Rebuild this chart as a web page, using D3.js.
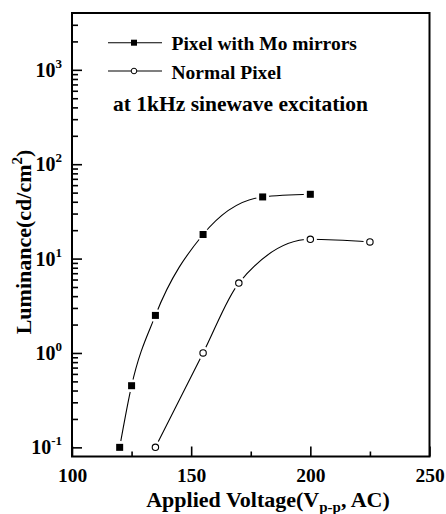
<!DOCTYPE html>
<html>
<head>
<meta charset="utf-8">
<script src="https://cdn.jsdelivr.net/npm/d3@7.9.0/dist/d3.min.js"></script>
<style>
  body { margin: 0; background: #fff; }
  svg { display: block; font-family: "Liberation Serif", "Times New Roman", serif; font-weight: bold; }
</style>
</head>
<body>
<svg id="chart" width="446" height="514"></svg>
<script>
// data
const moVoltage = [120, 125, 135, 155, 180, 200];
const moLuminance = [0.1, 0.45, 2.5, 18, 45, 48];
const normalVoltage = [135, 155, 170, 200, 225];
const normalLuminance = [0.1, 1.0, 5.5, 16, 15];

const xTicks = [100, 150, 200, 250];
const xMinorTicks = [125, 175, 225];
const yExponents = [-1, 0, 1, 2, 3];

const svg = d3.select('#chart');
const plotLeft = 72, plotRight = 429.5, plotTop = 13, plotBottom = 456.5;

const x = d3.scaleLinear().domain([100, 250]).range([plotLeft, plotRight]);
const y = d3.scaleLog().domain([0.08, 4000]).range([plotBottom, plotTop]);

// minor log ticks 2..9 in each decade
let yMinor = [];
yExponents.forEach((e) => {
  for (let d = 2; d <= 9; d++) {
    const v = d * Math.pow(10, e);
    if (v < 4000) yMinor.push(v);
  }
});

// x axis
const gx = svg.append('g').attr('transform', `translate(0,${plotBottom})`);
gx.call(d3.axisBottom(x).tickValues(xTicks).tickSize(-10).tickPadding(12).tickFormat(d3.format('d')));
gx.append('g').call(d3.axisBottom(x).tickValues(xMinorTicks).tickSize(-5).tickFormat(''));
gx.selectAll('.domain').remove();
gx.selectAll('text').attr('font-size', 19.5).attr('fill', '#000')
  .attr('font-family', '"Liberation Serif", serif').attr('font-weight', 'bold');
gx.selectAll('line').attr('stroke-width', 1.6);

// y axis
const gy = svg.append('g').attr('transform', `translate(${plotLeft},0)`);
gy.call(d3.axisLeft(y).tickValues(yExponents.map((e) => Math.pow(10, e))).tickSize(-10).tickFormat(''));
gy.append('g').call(d3.axisLeft(y).tickValues(yMinor).tickSize(-6).tickFormat(''));
gy.selectAll('.domain').remove();
gy.selectAll('line').attr('stroke-width', 1.6);

yExponents.forEach((e) => {
  const t = svg.append('text')
    .attr('x', 62)
    .attr('y', y(Math.pow(10, e)) + 7)
    .attr('text-anchor', 'end')
    .attr('font-size', 20);
  t.append('tspan').text('10');
  t.append('tspan').attr('dy', -9).attr('font-size', 13).text(e);
});

// frame
svg.append('rect')
  .attr('x', plotLeft).attr('y', plotTop)
  .attr('width', plotRight - plotLeft).attr('height', plotBottom - plotTop)
  .attr('fill', 'none').attr('stroke', '#000').attr('stroke-width', 2);

// axis titles
const xt = svg.append('text')
  .attr('x', 268).attr('y', 506.5)
  .attr('text-anchor', 'middle')
  .attr('font-size', 22);
xt.append('tspan').text('Applied Voltage(V');
xt.append('tspan').attr('dy', 5).attr('font-size', 15).text('p-p');
xt.append('tspan').attr('dy', -5).text(', AC)');

const yt = svg.append('text')
  .attr('transform', 'translate(31,242) rotate(-90)')
  .attr('text-anchor', 'middle')
  .attr('font-size', 22);
yt.append('tspan').text('Luminance(cd/cm');
yt.append('tspan').attr('dy', -9).attr('font-size', 15).text('2');
yt.append('tspan').attr('dy', 9).text(')');

// curves
const line = d3.line()
  .x((d) => x(d[0]))
  .y((d) => y(d[1]))
  .curve(d3.curveMonotoneX);

const moData = moVoltage.map((v, i) => [v, moLuminance[i]]);
const normalData = normalVoltage.map((v, i) => [v, normalLuminance[i]]);

[moData, normalData].forEach((data) => {
  svg.append('path')
    .attr('d', line(data))
    .attr('fill', 'none')
    .attr('stroke', '#000')
    .attr('stroke-width', 1.1);
});

// white halos make the gaps around markers
[...moData, ...normalData].forEach((d) => {
  svg.append('circle')
    .attr('cx', x(d[0])).attr('cy', y(d[1]))
    .attr('r', 6.5).attr('fill', '#fff');
});

svg.selectAll('.mo').data(moData).join('rect')
  .attr('class', 'mo')
  .attr('x', (d) => x(d[0]) - 3.5)
  .attr('y', (d) => y(d[1]) - 3.5)
  .attr('width', 7).attr('height', 7)
  .attr('fill', '#000');

svg.selectAll('.normal').data(normalData).join('circle')
  .attr('class', 'normal')
  .attr('cx', (d) => x(d[0]))
  .attr('cy', (d) => y(d[1]))
  .attr('r', 3.2)
  .attr('fill', '#fff').attr('stroke', '#000').attr('stroke-width', 1.1);

// legend
const legendRows = [
  { label: 'Pixel with Mo mirrors', y: 42.7, marker: 'square' },
  { label: 'Normal Pixel', y: 71, marker: 'circle' }
];
legendRows.forEach((r) => {
  svg.append('line')
    .attr('x1', 108).attr('x2', 162)
    .attr('y1', r.y).attr('y2', r.y)
    .attr('stroke', '#000').attr('stroke-width', 1.1);
  if (r.marker === 'square') {
    svg.append('rect').attr('x', 131).attr('y', r.y - 3)
      .attr('width', 6).attr('height', 6).attr('fill', '#000');
  } else {
    svg.append('circle').attr('cx', 134).attr('cy', r.y).attr('r', 2.8)
      .attr('fill', '#fff').attr('stroke', '#000').attr('stroke-width', 1);
  }
  svg.append('text')
    .attr('x', 171.5).attr('y', r.y + 7.5)
    .attr('font-size', 19.5)
    .text(r.label);
});

svg.append('text')
  .attr('x', 113).attr('y', 111)
  .attr('font-size', 21.5)
  .text('at 1kHz sinewave excitation');
</script>
</body>
</html>
